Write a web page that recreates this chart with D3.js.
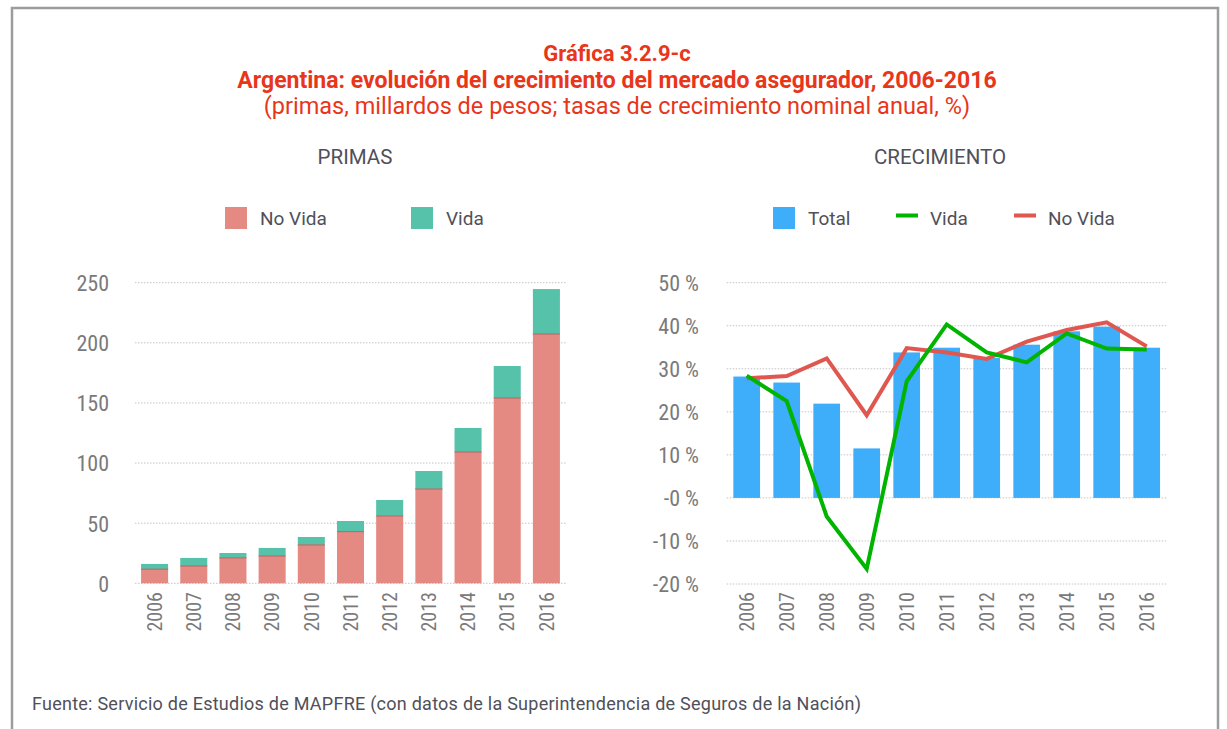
<!DOCTYPE html>
<html>
<head>
<meta charset="utf-8">
<script src="https://cdn.jsdelivr.net/npm/d3@7"></script>
<style>
  html, body { margin: 0; padding: 0; background: #fff; }
  svg { display: block; }
  .tick-lbl { font-family: 'Liberation Sans Narrow', 'Roboto Condensed', Roboto, sans-serif; fill: #7a7a7a; }
  .txt { font-family: Roboto, 'Noto Sans', sans-serif; }
</style>
</head>
<body>
<svg id="chart" width="1227" height="729"></svg>
<script>
// Years shared by both panels
const years = ["2006","2007","2008","2009","2010","2011","2012","2013","2014","2015","2016"];

// PRIMAS: premiums, billions of pesos
const primasNoVida = [11.7, 14.4, 21.1, 22.7, 31.9, 43.0, 56.0, 78.4, 109.2, 154.1, 207.3];
const primasVida   = [4.4, 6.7, 4.1, 6.7, 6.6, 8.8, 13.3, 15.0, 20.0, 26.6, 37.4];
const primasTicks  = [0, 50, 100, 150, 200, 250];

// CRECIMIENTO: nominal annual growth, %
const crecTotal  = [28.2, 26.8, 21.9, 11.5, 33.8, 34.9, 32.5, 35.6, 38.7, 39.8, 34.9];
const crecVida   = [28.4, 22.5, -4.3, -16.5, 27.1, 40.3, 33.8, 31.5, 38.2, 34.7, 34.5];
const crecNoVida = [27.8, 28.3, 32.4, 19.2, 34.8, 33.8, 32.3, 36.3, 39.0, 40.8, 35.2];
const crecTicks  = [-20, -10, 0, 10, 20, 30, 40, 50];
const crecTickLabels = ["-20 %", "-10 %", "-0 %", "10 %", "20 %", "30 %", "40 %", "50 %"];

const C = {
  title: "#e8361a",
  noVida: "#e58a83",
  noVidaEdge: "#b86e67",
  vida: "#55c2a9",
  total: "#3eadfa",
  lineVida: "#00b400",
  lineNoVida: "#e0574f",
  grid: "#c4c4c4",
  text: "#50505a",
  frame: "#9c9c9c"
};

const svg = d3.select("#chart");

// outer frame (open at the bottom)
svg.append("path")
  .attr("d", "M12,740 L12,8 L1218,8 L1218,740")
  .attr("fill", "none").attr("stroke", C.frame).attr("stroke-width", 2.5);

// titles
const titles = [
  { t: "Gráfica 3.2.9-c", y: 61, w: "700", s: 22 },
  { t: "Argentina: evolución del crecimiento del mercado asegurador, 2006-2016", y: 87.5, w: "700", s: 23 },
  { t: "(primas, millardos de pesos; tasas de crecimiento nominal anual, %)", y: 114, w: "400", s: 23.5 }
];
svg.selectAll("text.title").data(titles).join("text")
  .attr("class", "title txt")
  .attr("x", 617).attr("y", d => d.y)
  .attr("text-anchor", "middle")
  .attr("font-size", d => d.s).attr("font-weight", d => d.w)
  .attr("fill", C.title)
  .text(d => d.t);

// panel headers
svg.append("text").attr("class", "txt").attr("x", 355).attr("y", 164)
  .attr("text-anchor", "middle").attr("font-size", 20.5).attr("fill", C.text).text("PRIMAS");
svg.append("text").attr("class", "txt").attr("x", 940).attr("y", 164)
  .attr("text-anchor", "middle").attr("font-size", 20.5).attr("fill", C.text).text("CRECIMIENTO");

// legends
function swatch(x, color, label) {
  svg.append("rect").attr("x", x).attr("y", 207).attr("width", 22).attr("height", 22).attr("fill", color);
  svg.append("text").attr("class", "txt").attr("x", x + 35).attr("y", 225)
    .attr("font-size", 19).attr("fill", C.text).text(label);
}
function lineKey(x, color, label) {
  svg.append("rect").attr("x", x).attr("y", 213.5).attr("width", 22).attr("height", 4).attr("fill", color);
  svg.append("text").attr("class", "txt").attr("x", x + 34).attr("y", 225)
    .attr("font-size", 19).attr("fill", C.text).text(label);
}
swatch(225, C.noVida, "No Vida");
swatch(411, C.vida, "Vida");
swatch(773, C.total, "Total");
lineKey(896, C.lineVida, "Vida");
lineKey(1014, C.lineNoVida, "No Vida");

// ---------- PRIMAS panel ----------
const x1 = d3.scaleBand().domain(years).range([135, 566]).paddingInner(0.31).paddingOuter(0.155);
const y1 = d3.scaleLinear().domain([0, 250]).range([583.3, 282.7]);

const g1 = svg.append("g");
g1.selectAll("line.grid").data(primasTicks).join("line")
  .attr("x1", 135).attr("x2", 566)
  .attr("y1", d => y1(d)).attr("y2", d => y1(d))
  .attr("stroke", C.grid).attr("stroke-width", 1).attr("stroke-dasharray", "1.5,1.5");

const yAxis1 = d3.axisLeft(y1).tickValues(primasTicks).tickSize(0).tickPadding(0);
g1.append("g").attr("transform", "translate(109,0)").call(yAxis1)
  .call(g => g.select(".domain").remove())
  .selectAll("text").attr("class", "tick-lbl").attr("font-size", 22).attr("dy", "0.36em");

const rows = years.map((yr, i) => ({ yr, nv: primasNoVida[i], v: primasVida[i] }));
g1.selectAll("rect.nv").data(rows).join("rect")
  .attr("x", d => x1(d.yr)).attr("width", x1.bandwidth())
  .attr("y", d => y1(d.nv)).attr("height", d => y1(0) - y1(d.nv))
  .attr("fill", C.noVida);
g1.selectAll("rect.v").data(rows).join("rect")
  .attr("x", d => x1(d.yr)).attr("width", x1.bandwidth())
  .attr("y", d => y1(d.nv + d.v)).attr("height", d => y1(d.nv) - y1(d.nv + d.v))
  .attr("fill", C.vida);
g1.selectAll("line.edge").data(rows).join("line")
  .attr("x1", d => x1(d.yr)).attr("x2", d => x1(d.yr) + x1.bandwidth())
  .attr("y1", d => y1(d.nv)).attr("y2", d => y1(d.nv))
  .attr("stroke", C.noVidaEdge).attr("stroke-width", 1.2);

const xAxis1 = d3.axisBottom(x1).tickSize(0).tickPadding(0);
g1.append("g").attr("transform", "translate(0,592)").call(xAxis1)
  .call(g => g.select(".domain").remove())
  .selectAll("text").attr("class", "tick-lbl").attr("font-size", 20)
  .attr("transform", "rotate(-90)").attr("text-anchor", "end")
  .attr("x", 0).attr("y", 0).attr("dx", 0).attr("dy", "0.36em");

// ---------- CRECIMIENTO panel ----------
const x2 = d3.scaleBand().domain(years).range([726.7, 1166.7]).paddingInner(0.333).paddingOuter(0.1665);
const y2 = d3.scaleLinear().domain([-20, 50]).range([584, 282.7]);

const g2 = svg.append("g");
g2.selectAll("line.grid").data(crecTicks).join("line")
  .attr("x1", 726.7).attr("x2", 1166.7)
  .attr("y1", d => y2(d)).attr("y2", d => y2(d))
  .attr("stroke", C.grid).attr("stroke-width", 1).attr("stroke-dasharray", "1.5,1.5");

const yAxis2 = d3.axisLeft(y2).tickValues(crecTicks).tickSize(0).tickPadding(0)
  .tickFormat((d, i) => crecTickLabels[i]);
g2.append("g").attr("transform", "translate(699,0)").call(yAxis2)
  .call(g => g.select(".domain").remove())
  .selectAll("text").attr("class", "tick-lbl").attr("font-size", 22).attr("dy", "0.36em");

g2.selectAll("rect.tot").data(years.map((yr, i) => ({ yr, v: crecTotal[i] }))).join("rect")
  .attr("x", d => x2(d.yr)).attr("width", x2.bandwidth())
  .attr("y", d => y2(Math.max(0, d.v))).attr("height", d => Math.abs(y2(d.v) - y2(0)))
  .attr("fill", C.total);

const cx = yr => x2(yr) + x2.bandwidth() / 2;
const line = d3.line().x(d => cx(d.yr)).y(d => y2(d.v));
g2.append("path")
  .datum(years.map((yr, i) => ({ yr, v: crecNoVida[i] })))
  .attr("d", line).attr("fill", "none")
  .attr("stroke", C.lineNoVida).attr("stroke-width", 4);
g2.append("path")
  .datum(years.map((yr, i) => ({ yr, v: crecVida[i] })))
  .attr("d", line).attr("fill", "none")
  .attr("stroke", C.lineVida).attr("stroke-width", 4);

const xAxis2 = d3.axisBottom(x2).tickSize(0).tickPadding(0);
g2.append("g").attr("transform", "translate(0,592)").call(xAxis2)
  .call(g => g.select(".domain").remove())
  .selectAll("text").attr("class", "tick-lbl").attr("font-size", 20)
  .attr("transform", "rotate(-90)").attr("text-anchor", "end")
  .attr("x", 0).attr("y", 0).attr("dx", 0).attr("dy", "0.36em");

// source note
svg.append("text").attr("class", "txt").attr("x", 32).attr("y", 710)
  .attr("font-size", 18).attr("letter-spacing", 0.25).attr("fill", C.text)
  .text("Fuente: Servicio de Estudios de MAPFRE (con datos de la Superintendencia de Seguros de la Nación)");
</script>
</body>
</html>
